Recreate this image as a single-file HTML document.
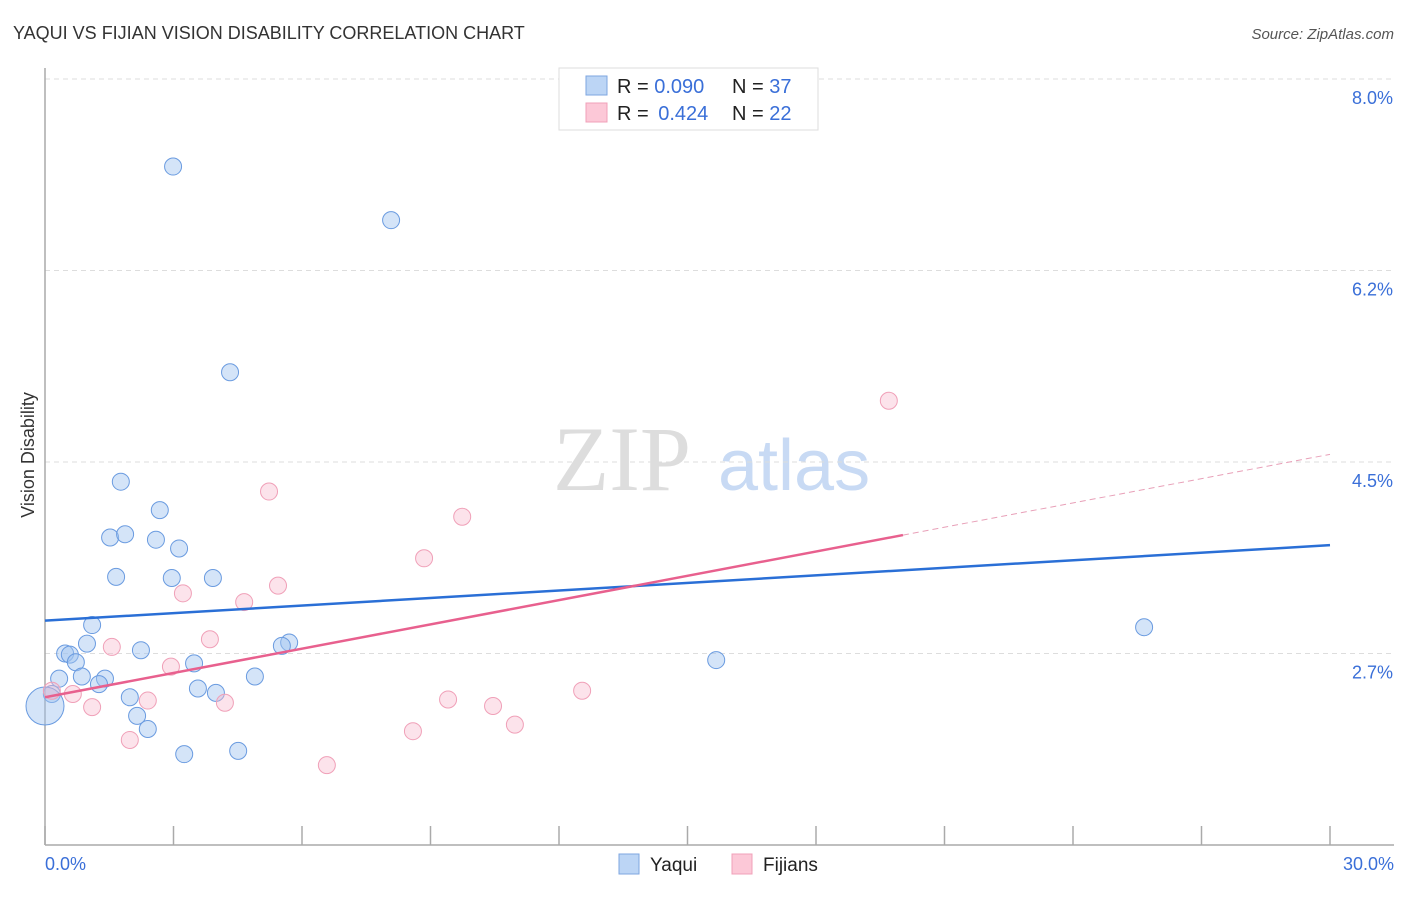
<!DOCTYPE html>
<html><head><meta charset="utf-8"><style>
body{margin:0;background:#fff;font-family:"Liberation Sans",sans-serif}
</style></head><body>
<svg width="1406" height="892" viewBox="0 0 1406 892" xmlns="http://www.w3.org/2000/svg" font-family="Liberation Sans, sans-serif">
<text x="13" y="39" font-size="18" fill="#333">YAQUI VS FIJIAN VISION DISABILITY CORRELATION CHART</text>
<text x="1394" y="39" font-size="15" fill="#555" text-anchor="end" font-style="italic">Source: ZipAtlas.com</text>
<g>
<text x="553" y="490" font-size="92" fill="#ddd" font-family="Liberation Serif, serif">ZIP</text>
<text x="718" y="490" font-size="72" fill="#c8daf4">atlas</text>
</g>
<g id="grid"></g>
<line x1="45" y1="68" x2="45" y2="845" stroke="#aaa" stroke-width="1.5"/>
<line x1="45" y1="845" x2="1394" y2="845" stroke="#aaa" stroke-width="1.5"/>
<g id="ticks"></g>
<text transform="translate(34,455) rotate(-90)" font-size="18" fill="#333" text-anchor="middle">Vision Disability</text>
<text x="45" y="870" font-size="18" fill="#3a6fd8">0.0%</text>
<text x="1394" y="870" font-size="18" fill="#3a6fd8" text-anchor="end">30.0%</text>
<g id="pts"></g>
<g id="lines"></g>
<g>
<rect x="559" y="68" width="259" height="62" fill="#fff" stroke="#ddd"/>
<rect x="586" y="76" width="21" height="19" fill="#bcd5f5" stroke="#7ea6e0"/>
<rect x="586" y="103" width="21" height="19" fill="#fcc8d7" stroke="#f0a0b8"/>
<text x="617" y="93" font-size="20" fill="#222">R = <tspan fill="#3a6fd8">0.090</tspan><tspan x="732">N = </tspan><tspan fill="#3a6fd8">37</tspan></text>
<text x="617" y="120" font-size="20" fill="#222">R = <tspan fill="#3a6fd8" dx="4">0.424</tspan><tspan x="732">N = </tspan><tspan fill="#3a6fd8">22</tspan></text>
</g>
<g>
<rect x="619" y="854" width="20" height="20" fill="#bcd5f5" stroke="#7ea6e0"/>
<text x="650" y="871" font-size="19" fill="#222">Yaqui</text>
<rect x="732" y="854" width="20" height="20" fill="#fcc8d7" stroke="#f0a0b8"/>
<text x="763" y="871" font-size="19" fill="#222">Fijians</text>
</g>
</svg>
<script>
const yTicks=[8.0,6.25,4.5,2.75];
const yTickLabels=["8.0%","6.2%","4.5%","2.7%"];
const xTicks=[0,3,6,9,12,15,18,21,24,27,30];
const yaquiX=[2.99,8.08,4.32,1.77,2.68,1.52,1.87,2.59,3.13,1.66,2.96,3.92,1.10,0.98,0.47,0.58,0.72,2.24,5.70,5.53,3.48,0.33,0.86,1.40,1.26,4.90,3.57,1.98,3.99,0.16,2.15,2.40,3.25,4.51,15.67,25.66,0.0];
const yaquiY=[7.20,6.71,5.32,4.32,4.06,3.81,3.84,3.79,3.71,3.45,3.44,3.44,3.01,2.84,2.75,2.74,2.67,2.78,2.85,2.82,2.66,2.52,2.54,2.52,2.47,2.54,2.43,2.35,2.39,2.38,2.18,2.06,1.83,1.86,2.69,2.99,2.27];
const fijiX=[19.70,5.23,9.74,8.85,5.44,3.22,4.65,1.56,3.85,2.94,0.16,0.65,2.40,1.10,4.20,9.41,10.46,12.54,10.97,8.59,1.98,6.58];
const fijiY=[5.06,4.23,4.0,3.62,3.37,3.30,3.22,2.81,2.88,2.63,2.41,2.38,2.32,2.26,2.30,2.33,2.27,2.41,2.10,2.04,1.96,1.73];
const yaquiTrend=[3.05,3.74];
const fijiTrend=[2.35,4.57];
const fijiSolidEnd=20.03;
const NS="http://www.w3.org/2000/svg";
const X=v=>45+v*(1285/30);
const Y=v=>79+(8.0-v)*(191.5/1.75);
function mk(tag,attrs,parent){const e=document.createElementNS(NS,tag);for(const k in attrs)e.setAttribute(k,attrs[k]);document.getElementById(parent).appendChild(e);return e;}
yTicks.forEach((t,i)=>{
const l=mk('line',{x1:45,x2:1394,y1:Y(t),y2:Y(t),stroke:'#ddd','stroke-dasharray':'5,4'},'grid');


const tx=mk('text',{x:1393,y:Y(t)+25,'font-size':18,fill:'#3a6fd8','text-anchor':'end'},'grid');
tx.textContent=yTickLabels[i];


});
xTicks.forEach(t=>{
const l=mk('line',{x1:X(t),x2:X(t),y1:826,y2:845,stroke:'#aaa','stroke-width':1.5},'ticks');


});
yaquiX.forEach((x,i)=>{
const c=mk('circle',{cx:X(x),cy:Y(yaquiY[i]),r:i===yaquiX.length-1?19:8.5,fill:'rgba(160,196,240,0.45)',stroke:'#6a9be0','stroke-width':1},'pts');


});
fijiX.forEach((x,i)=>{
const c=mk('circle',{cx:X(x),cy:Y(fijiY[i]),r:8.5,fill:'rgba(248,185,205,0.4)',stroke:'#f0a0b8','stroke-width':1},'pts');


});
const yl=mk('line',{x1:X(0),y1:Y(yaquiTrend[0]),x2:X(30),y2:Y(yaquiTrend[1]),stroke:'#2a6fd6','stroke-width':2.5},'lines');


const fy=x=>fijiTrend[0]+(fijiTrend[1]-fijiTrend[0])*x/30;
const fl=mk('line',{x1:X(0),y1:Y(fy(0)),x2:X(fijiSolidEnd),y2:Y(fy(fijiSolidEnd)),stroke:'#e8608e','stroke-width':2.5},'lines');


const fd=mk('line',{x1:X(fijiSolidEnd),y1:Y(fy(fijiSolidEnd)),x2:X(30),y2:Y(fy(30)),stroke:'#e8a0b8','stroke-width':1,'stroke-dasharray':'6,4'},'lines');


</script>
</body></html>
